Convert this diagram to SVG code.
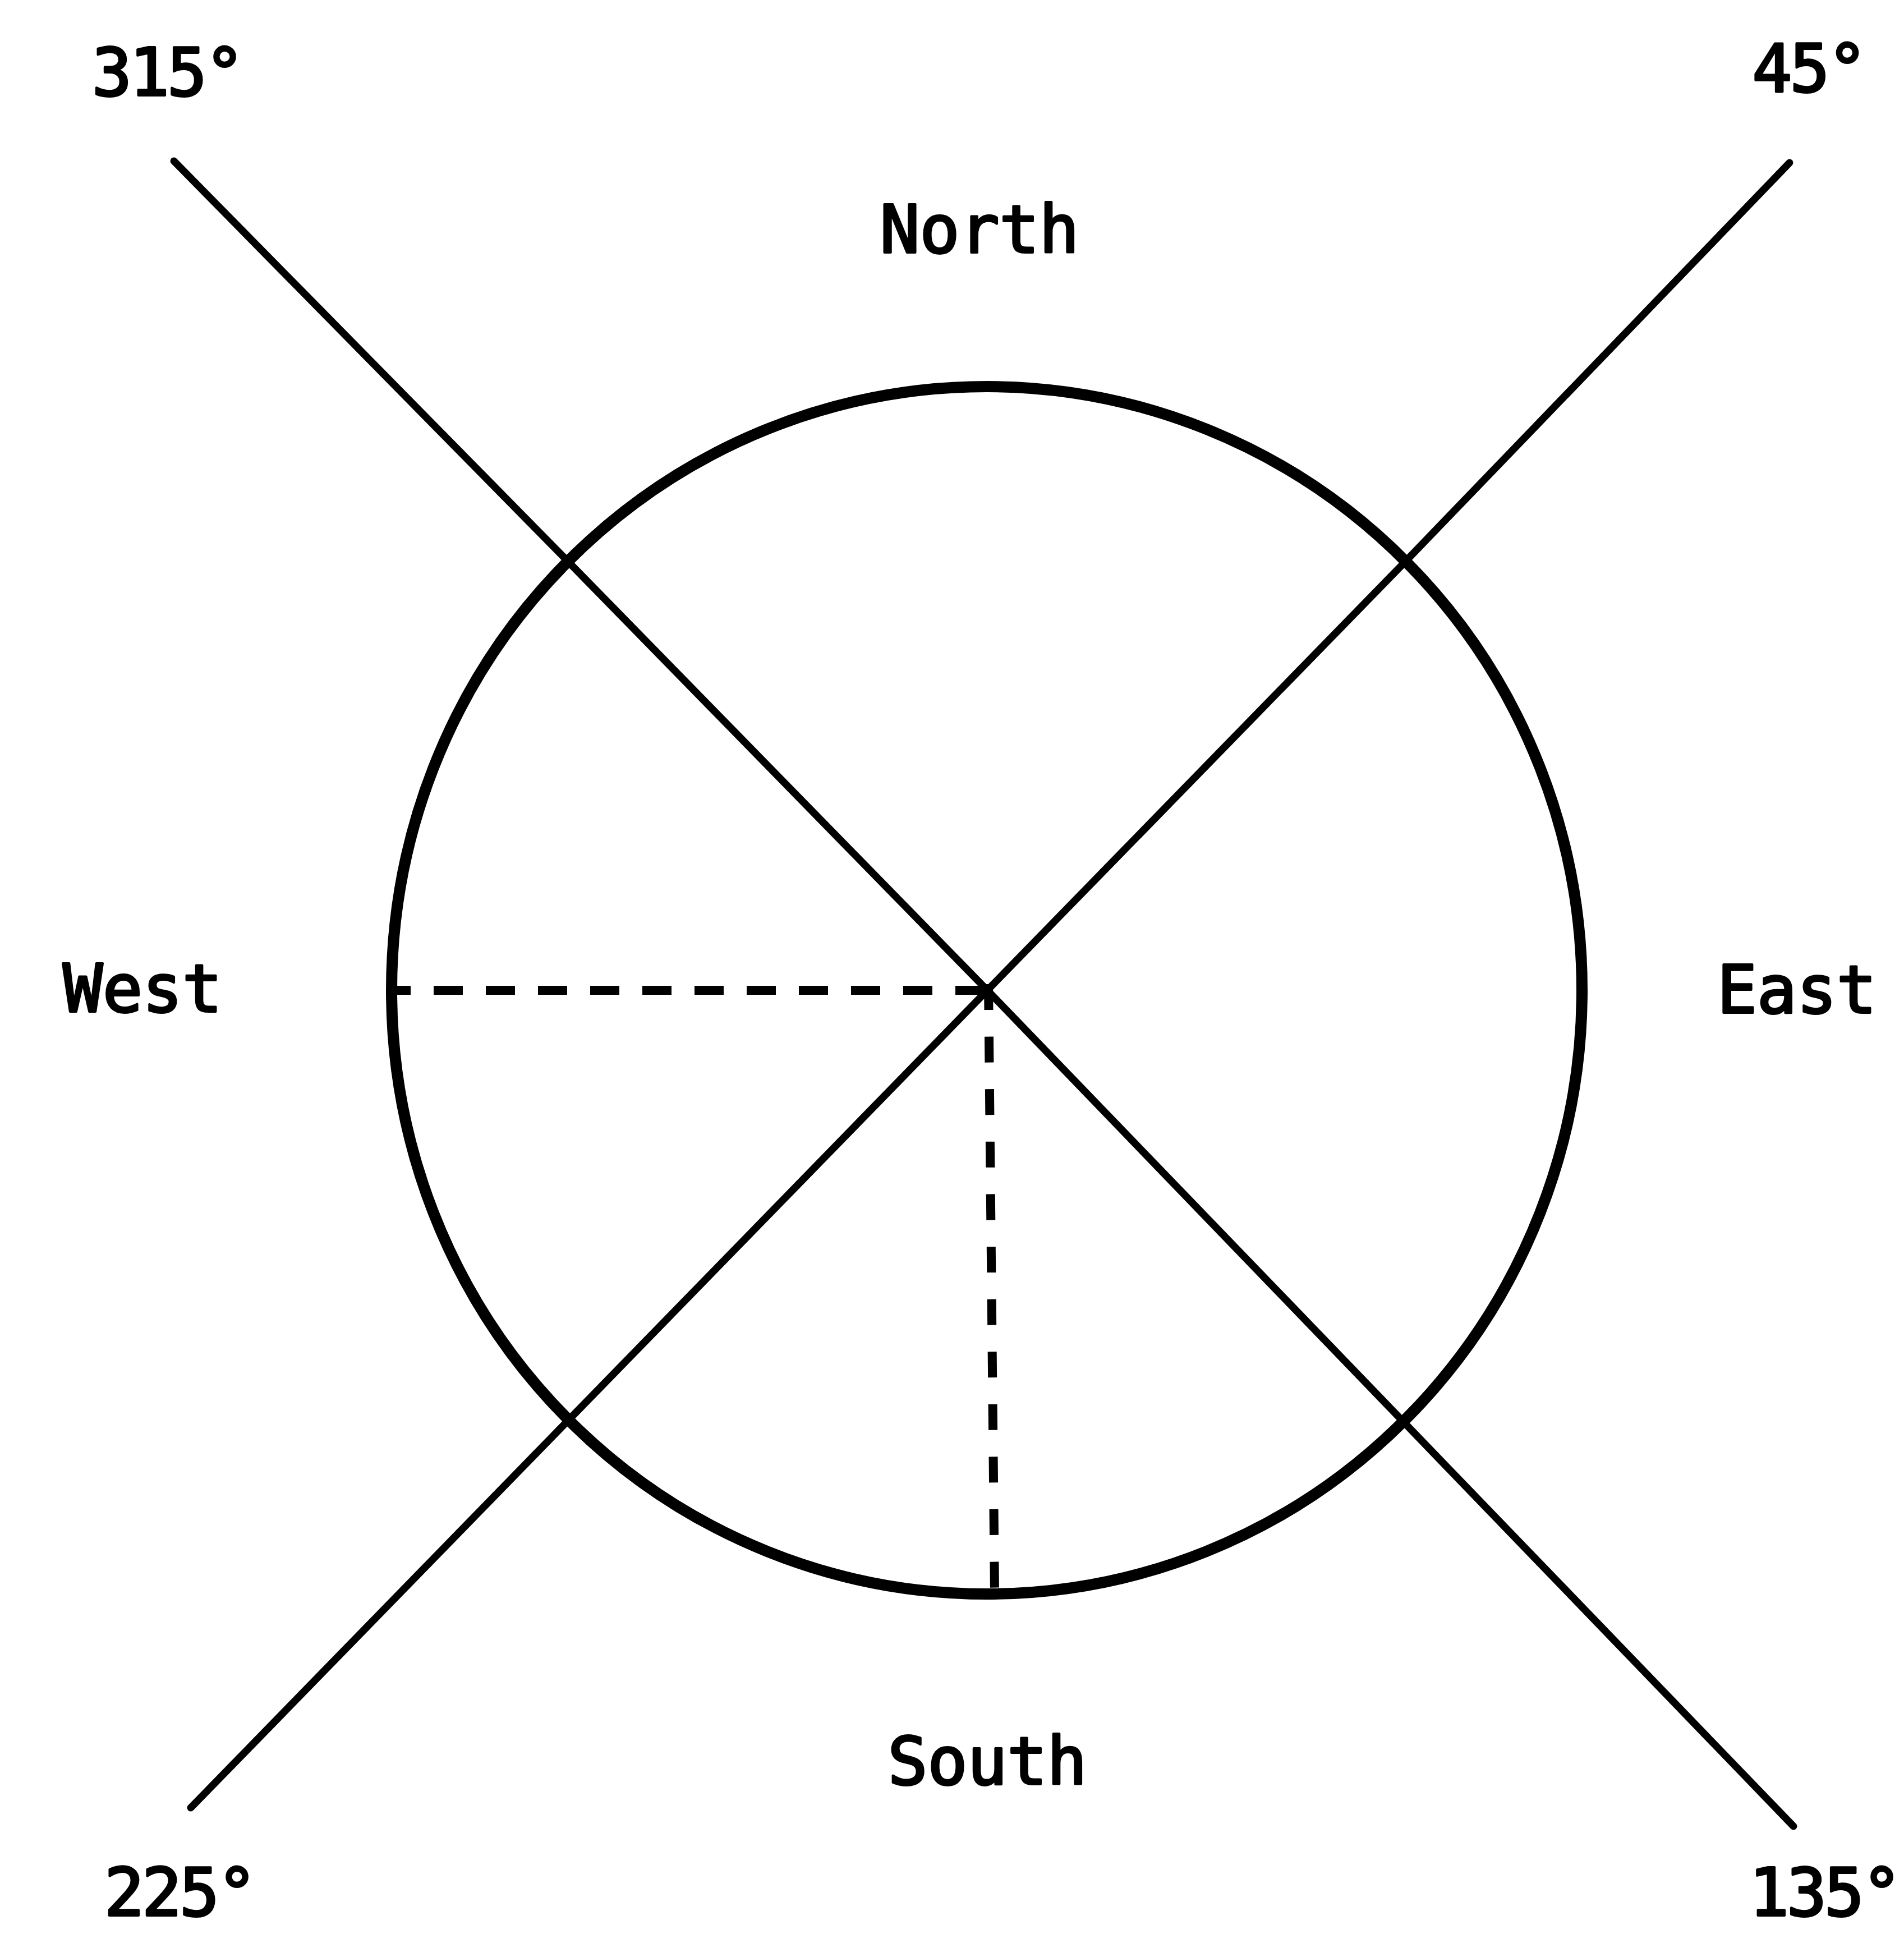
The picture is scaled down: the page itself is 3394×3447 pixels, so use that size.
<svg xmlns="http://www.w3.org/2000/svg" width="3394" height="3447" viewBox="0 0 3394 3447">
<style>
.lbl{font-family:"DejaVu Sans Mono","Liberation Mono",monospace;font-size:118px;fill:#000;stroke:#000;stroke-width:4px;stroke-linejoin:round;text-anchor:middle}
.deg{letter-spacing:-4px}
.ln{fill:none;stroke:#000;stroke-width:13;stroke-linecap:round;stroke-linejoin:round}
.dash{fill:none;stroke:#000;stroke-width:16}
</style>
<rect width="3394" height="3447" fill="#fff"/>
<g id="circle">
<ellipse cx="1759" cy="1765" rx="1061" ry="1076" fill="none" stroke="#000" stroke-width="20"/>
</g>
<g id="connectors">
<polyline class="ln" points="310,287 1002,990 1760,1765 3197,3255"/>
<polyline class="ln" points="3190,290 2506,1000 1760,1765 340,3222"/>
<line class="dash" x1="1755" y1="1765" x2="707" y2="1765" stroke-dasharray="52 41"/>
<line class="dash" x1="1762" y1="1754" x2="1773" y2="2835" stroke-dasharray="46 47.6"/>
</g>
<g id="label-315"><text class="lbl deg" x="298" y="170">315°</text></g>
<g id="label-45"><text class="lbl deg" x="3224" y="163">45°</text></g>
<g id="label-north"><text class="lbl" x="1746" y="450">North</text></g>
<g id="label-west"><text class="lbl" x="254" y="1803">West</text></g>
<g id="label-east"><text class="lbl" x="3203" y="1805">East</text></g>
<g id="label-south"><text class="lbl" x="1760" y="3180">South</text></g>
<g id="label-225"><text class="lbl deg" x="320" y="3414">225°</text></g>
<g id="label-135"><text class="lbl deg" x="3252" y="3414">135°</text></g>
</svg>
